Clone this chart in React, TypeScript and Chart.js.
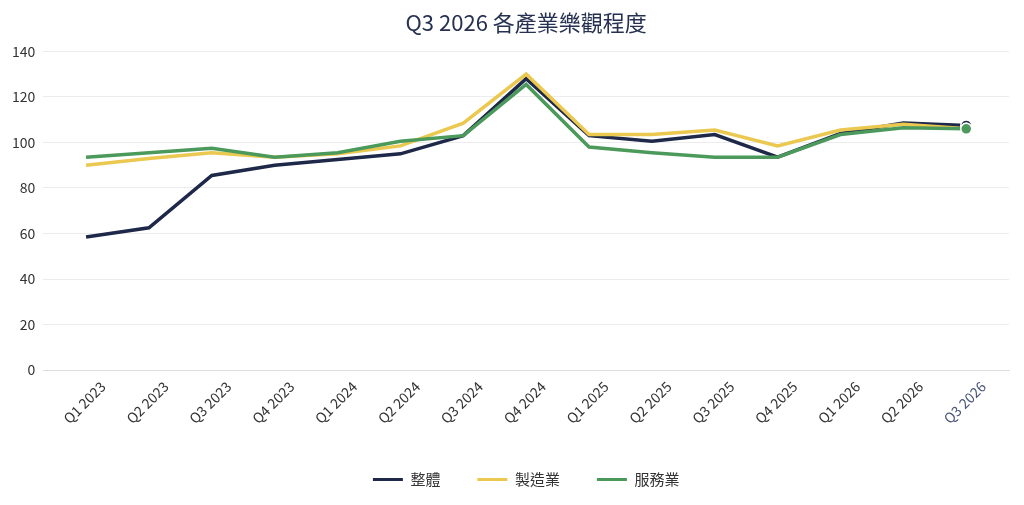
import { useEffect, useRef } from 'react'
import { Chart, registerables } from 'chart.js'

Chart.register(...registerables)

const quarters = [
  'Q1 2023', 'Q2 2023', 'Q3 2023', 'Q4 2023',
  'Q1 2024', 'Q2 2024', 'Q3 2024', 'Q4 2024',
  'Q1 2025', 'Q2 2025', 'Q3 2025', 'Q4 2025',
  'Q1 2026', 'Q2 2026', 'Q3 2026',
]
const overall = [58.5, 62.5, 85.5, 90, 92.5, 95, 103, 128, 103, 100.5, 103.5, 93.5, 104, 108.5, 107.5]
const manufacturing = [90, 93, 95.5, 93.5, 95, 98.5, 108.5, 130, 103.5, 103.5, 105.5, 98.5, 105.5, 108, 106]
const services = [93.5, 95.5, 97.5, 93.5, 95.5, 100.5, 103, 125.5, 98, 95.5, 93.5, 93.5, 103.5, 106.5, 106]
const yTicks = [0, 20, 40, 60, 80, 100, 120, 140]

const FONT = "'Noto Sans CJK TC', 'Noto Sans', sans-serif"
const last = quarters.length - 1

const toPoints = (values: number[]) => values.map((y, x) => ({ x, y }))

const App = () => {
  const chartRef = useRef<HTMLCanvasElement | null>(null)

  useEffect(() => {
    const ctx = chartRef.current?.getContext('2d')
    if (!ctx) return

    const series = [
      { label: '整體', data: overall, color: '#1e2848', order: 3 },
      { label: '製造業', data: manufacturing, color: '#ebc850', order: 2 },
      { label: '服務業', data: services, color: '#4b9a5b', order: 1 },
    ]

    const chart = new Chart(ctx, {
      type: 'line',
      data: {
        datasets: series.map((s) => ({
          label: s.label,
          data: toPoints(s.data),
          borderColor: s.color,
          backgroundColor: s.color,
          pointBackgroundColor: s.color,
          pointBorderColor: '#ffffff',
          pointBorderWidth: 1.5,
          pointRadius: (c: any) => (c.dataIndex === last ? 5.5 : 0),
          borderWidth: 3.5,
          tension: 0,
          order: s.order,
        })),
      },
      options: {
        responsive: true,
        maintainAspectRatio: false,
        animation: false,
        layout: { padding: { left: 4, right: 4, top: 0, bottom: 0 } },
        plugins: {
          title: {
            display: true,
            text: 'Q3 2026 各產業樂觀程度',
            color: '#263152',
            fullSize: false,
            font: { family: FONT, size: 22, weight: 'normal' },
            padding: { top: 1, bottom: 16 },
          },
          legend: {
            position: 'bottom',
            fullSize: false,
            labels: {
              usePointStyle: true,
              pointStyle: 'line',
              pointStyleWidth: 30,
              color: '#333333',
              font: { family: FONT, size: 15 },
              padding: 37,
              sort: (a: any, b: any) => a.datasetIndex - b.datasetIndex,
              generateLabels: (c: any) =>
                Chart.defaults.plugins.legend.labels.generateLabels(c).map((item: any) => {
                  const ds: any = c.data.datasets[item.datasetIndex]
                  return { ...item, strokeStyle: ds.borderColor, fillStyle: ds.borderColor, lineWidth: 3 }
                }),
            },
          },
          tooltip: { enabled: false },
        },
        scales: {
          x: {
            type: 'linear',
            min: -0.68,
            max: last + 0.68,
            grid: { display: false },
            border: { display: true, color: '#dddddd' },
            afterFit: (scale: any) => {
              scale.height += 8
            },
            ticks: {
              stepSize: 1,
              includeBounds: false,
              autoSkip: false,
              minRotation: 45,
              maxRotation: 45,
              padding: 0,
              labelOffset: 17,
              font: { family: FONT, size: 14 },
              color: (c: any) => (c.tick && c.tick.value === last ? '#4a5578' : '#333333'),
              callback: (v: any) => quarters[v] ?? '',
            },
          },
          y: {
            min: yTicks[0],
            max: yTicks[yTicks.length - 1],
            border: { display: false },
            grid: { color: '#ececec', drawTicks: false },
            afterBuildTicks: (scale: any) => {
              scale.ticks = yTicks.map((value) => ({ value }))
            },
            ticks: {
              padding: 8,
              color: '#333333',
              font: { family: FONT, size: 14 },
            },
          },
        },
      },
    })

    return () => {
      chart.destroy()
    }
  }, [])

  return (
    <div style={{ position: 'relative', width: 1016, height: 489, marginLeft: -8 }}>
      <canvas ref={chartRef} />
    </div>
  )
}

export default App
